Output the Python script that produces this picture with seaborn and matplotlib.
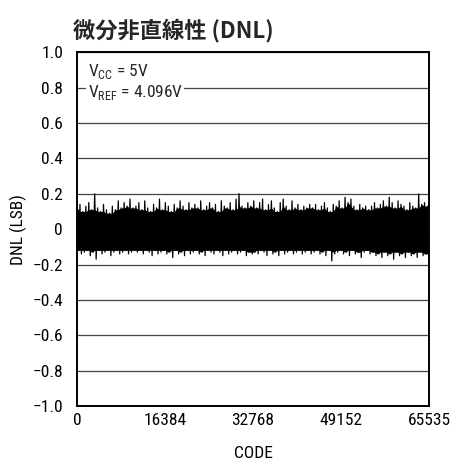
import numpy as np
import pandas as pd
import matplotlib
matplotlib.use("Agg")
import matplotlib.pyplot as plt
from matplotlib import font_manager
import seaborn as sns

# --- data -------------------------------------------------------------
# Peak-to-peak DNL per code group: upper and lower extremes
dnl_upper = [
    0.12, 0.14, 0.10, 0.13, 0.15, 0.11, 0.20, 0.12, 0.10, 0.14, 0.11, 0.09, 0.13, 0.11, 0.16, 0.12, 0.15, 0.13, 0.17, 0.12,
    0.13, 0.15, 0.11, 0.16, 0.12, 0.10, 0.14, 0.12, 0.17, 0.11, 0.15, 0.13, 0.10, 0.14, 0.12, 0.16, 0.13, 0.11, 0.15, 0.12,
    0.14, 0.12, 0.16, 0.11, 0.13, 0.15, 0.12, 0.14, 0.10, 0.16, 0.13, 0.12, 0.15, 0.11, 0.17, 0.20, 0.13, 0.12, 0.15, 0.13,
    0.16, 0.12, 0.15, 0.17, 0.11, 0.14, 0.16, 0.12, 0.10, 0.15, 0.17, 0.13, 0.11, 0.16, 0.12, 0.14, 0.11, 0.13, 0.12, 0.14,
    0.12, 0.14, 0.11, 0.13, 0.15, 0.12, 0.10, 0.14, 0.13, 0.16, 0.12, 0.18, 0.15, 0.17, 0.13, 0.11, 0.14, 0.12, 0.13, 0.11,
    0.13, 0.15, 0.12, 0.14, 0.16, 0.13, 0.18, 0.15, 0.12, 0.16, 0.14, 0.13, 0.11, 0.15, 0.13, 0.12, 0.20, 0.14, 0.15, 0.13,
]
dnl_lower = [
    -0.12, -0.14, -0.13, -0.12, -0.15, -0.13, -0.17, -0.12, -0.14, -0.13, -0.12, -0.15, -0.13, -0.12, -0.14, -0.13, -0.12, -0.14, -0.13, -0.12,
    -0.13, -0.12, -0.14, -0.12, -0.13, -0.15, -0.12, -0.14, -0.13, -0.12, -0.14, -0.13, -0.16, -0.12, -0.14, -0.13, -0.15, -0.12, -0.14, -0.13,
    -0.12, -0.14, -0.13, -0.15, -0.12, -0.13, -0.14, -0.12, -0.13, -0.15, -0.12, -0.14, -0.13, -0.12, -0.14, -0.13, -0.12, -0.15, -0.13, -0.14,
    -0.13, -0.14, -0.12, -0.13, -0.15, -0.12, -0.14, -0.13, -0.15, -0.12, -0.14, -0.13, -0.12, -0.14, -0.13, -0.12, -0.14, -0.13, -0.12, -0.14,
    -0.13, -0.12, -0.14, -0.13, -0.15, -0.12, -0.18, -0.14, -0.13, -0.12, -0.14, -0.13, -0.15, -0.12, -0.14, -0.13, -0.16, -0.13, -0.12, -0.14,
    -0.13, -0.15, -0.14, -0.16, -0.13, -0.15, -0.14, -0.17, -0.13, -0.15, -0.14, -0.16, -0.13, -0.15, -0.14, -0.16, -0.13, -0.15, -0.14, -0.16,
]
x_ticks = [0, 16384, 32768, 49152, 65535]
x_tick_labels = ["0", "16384", "32768", "49152", "65535"]
y_ticks = [-1.0, -0.8, -0.6, -0.4, -0.2, 0.0, 0.2, 0.4, 0.6, 0.8, 1.0]
y_tick_labels = ["\u22121.0", "\u22120.8", "\u22120.6", "\u22120.4", "\u22120.2", "0",
                 "0.2", "0.4", "0.6", "0.8", "1.0"]
title = "微分非直線性 (DNL)"
x_label = "CODE"
y_label = "DNL (LSB)"
cond_lines = [r"V$_{\mathregular{CC}}$ = 5V", r"V$_{\mathregular{REF}}$ = 4.096V"]

# --- build the trace: alternate upper / lower extremes along the code axis
n = len(dnl_upper)
codes = np.linspace(0, 65535, 2 * n)
dnl = np.empty(2 * n)
dnl[0::2] = dnl_upper
dnl[1::2] = dnl_lower
df = pd.DataFrame({"code": codes, "dnl": dnl})

# dense body of the trace: the band every neighbourhood of codes covers
up = pd.Series(dnl_upper).rolling(3, center=True, min_periods=1).min().to_numpy()
lo = pd.Series(dnl_lower).rolling(3, center=True, min_periods=1).max().to_numpy()
body = pd.DataFrame({"code": codes[0::2], "top": up, "bottom": lo})

# --- fonts --------------------------------------------------------------
sns.set_theme(style="white")
available = {f.name for f in font_manager.fontManager.ttflist}
narrow = next((f for f in ["Liberation Sans Narrow", "Roboto Condensed", "Open Sans Condensed",
                           "DejaVu Sans Condensed", "Liberation Sans"] if f in available), "DejaVu Sans")
plt.rcParams["font.family"] = [narrow, "DejaVu Sans"]
plt.rcParams["mathtext.fontset"] = "custom"
plt.rcParams["mathtext.rm"] = narrow
plt.rcParams["axes.unicode_minus"] = True

fig = plt.figure(figsize=(4.53, 4.62), dpi=100)
ax = fig.add_axes([0.170, 0.121, 0.777, 0.766])

ax.fill_between(body["code"], body["bottom"], body["top"], color="black", linewidth=0, zorder=3)
sns.lineplot(data=df, x="code", y="dnl", ax=ax, color="black", linewidth=0.9,
             estimator=None, sort=False, zorder=3)

ax.set_xlim(0, 65535)
ax.set_ylim(-1.0, 1.0)
ax.set_xticks(x_ticks)
ax.set_xticklabels(x_tick_labels)
ax.set_yticks(y_ticks)
ax.set_yticklabels(y_tick_labels)
ax.tick_params(axis="both", length=0, labelsize=12.5, colors="black")
ax.tick_params(axis="y", pad=10)
ax.tick_params(axis="x", pad=5)

ax.yaxis.grid(True, color="#444444", linewidth=0.9)
ax.xaxis.grid(False)
for s in ax.spines.values():
    s.set_visible(True)
    s.set_color("black")
    s.set_linewidth(1.4)

ax.set_xlabel(x_label, fontsize=12.5, color="black")
ax.set_ylabel(y_label, fontsize=12.5, color="black")
ax.xaxis.set_label_coords(0.5, -0.113)
ax.yaxis.set_label_coords(-0.142, 0.5)

# operating conditions, on a white patch over the grid
ax.text(0.03, 0.972, "\n".join(cond_lines), transform=ax.transAxes, fontsize=12.5,
        va="top", ha="left", linespacing=1.1, zorder=4,
        bbox=dict(facecolor="white", edgecolor="none", pad=1))

fig.text(0.161, 0.935, title, fontsize=16, fontweight="bold", va="center", ha="left",
         family=["Noto Sans CJK JP", "DejaVu Sans"])

fig.savefig("out.png", dpi=100, facecolor="white")
